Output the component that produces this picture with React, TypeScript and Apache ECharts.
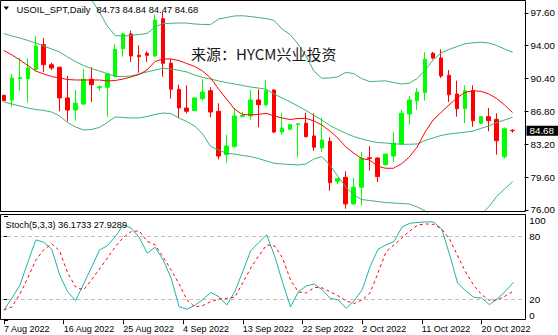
import { useEffect, useRef } from "react";
import * as echarts from "echarts";

const symbolName = "USOIL_SPT";
const timeframe = "Daily";
const watermark = "来源：HYCM兴业投资";

const opens = [88.56, 88.05, 90.4, 90.38, 91.41, 94.11, 91.91, 91.63, 88.27, 86.95, 87.61, 90.32, 89.38, 89.44, 90.68, 93.67, 95.28, 92.94, 93.16, 92.87, 96.95, 92.07, 89.22, 87.17, 86.88, 88.19, 89.07, 86.81, 82.06, 82.93, 86.25, 86.3, 88.05, 87.53, 89.14, 84.54, 84.84, 85.38, 85.5, 84.11, 82.79, 83.52, 79.14, 79.58, 76.66, 78.49, 81.72, 81.7, 80.96, 81.91, 83.23, 86.51, 87.97, 88.85, 93.16, 92.65, 90.75, 88.71, 87.1, 89.07, 85.5, 86.22, 85.93, 81.84, 84.73];
const highs = [88.63, 90.9, 92.65, 92.65, 95.06, 94.84, 92.13, 91.7, 90.68, 89.14, 91.41, 91.63, 89.66, 90.97, 94.18, 95.42, 95.64, 94.04, 93.38, 97.39, 97.69, 92.57, 89.72, 89.66, 88.38, 90.32, 89.44, 87.69, 84.25, 87.1, 86.73, 89.14, 89.22, 90.24, 89.22, 86.59, 85.42, 85.5, 86.66, 86.59, 86.08, 83.96, 79.5, 80.24, 79.5, 82.35, 83.01, 81.75, 82.15, 84.54, 86.95, 88.49, 89.36, 93.31, 93.31, 93.6, 91.33, 90.16, 89.66, 89.66, 86.3, 87.17, 86.59, 85.06, 84.84];
const lows = [87.91, 87.31, 89.07, 87.75, 91.19, 91.12, 91.33, 86.81, 85.72, 85.78, 87.47, 87.83, 89.07, 86.22, 90.53, 92.79, 92.21, 91.04, 92.21, 92.79, 90.6, 88.19, 86.08, 86.59, 86.84, 87.97, 86.15, 81.55, 81.18, 82.87, 86.15, 85.86, 85.06, 87.31, 84.4, 84.25, 84.8, 81.77, 83.96, 82.5, 82.35, 78.11, 78.85, 76.14, 76.58, 76.51, 80.3, 79.07, 80.95, 81.26, 83.15, 85.34, 86.95, 87.97, 92.51, 90.46, 87.83, 86.22, 85.5, 85.12, 85.42, 84.62, 82.06, 81.62, 84.47];
const closes = [87.97, 90.46, 90.5, 91.55, 93.96, 91.91, 91.55, 88.27, 86.95, 87.69, 90.32, 89.72, 89.5, 90.9, 93.6, 95.28, 92.87, 92.79, 92.94, 96.81, 92.07, 89.22, 87.17, 86.81, 88.27, 88.92, 86.73, 81.91, 83.01, 86.3, 86.35, 88.05, 87.53, 89.07, 84.54, 84.98, 85.34, 85.45, 84.03, 82.87, 83.67, 78.99, 79.43, 76.66, 78.49, 81.66, 81.66, 79.65, 82.13, 83.31, 86.59, 88.05, 88.92, 92.51, 92.65, 90.68, 88.63, 87.1, 89.07, 85.78, 86.22, 85.78, 83.59, 84.9, 84.68];

const bbUpper = [102.81, 102.51, 102.29, 101.96, 101.57, 101.03, 100.53, 100.32, 99.93, 99.44, 99.33, 99.06, 97.69, 96.15, 95.11, 95.06, 95.11, 95.22, 95.33, 96.04, 96.43, 96.45, 96.48, 96.48, 96.37, 96.32, 96.32, 96.92, 97.08, 97.25, 97.28, 97.19, 97.08, 96.97, 96.76, 95.82, 95.22, 94.18, 92.87, 91.22, 90.43, 90.46, 90.59, 91.06, 90.95, 90.4, 90.07, 90.1, 90.15, 89.96, 89.8, 89.88, 90.4, 91.33, 92.43, 93.2, 93.58, 93.89, 94.2, 94.31, 94.37, 94.29, 94.02, 93.63, 93.27];
const bbMiddle = [95.32, 95.06, 94.84, 94.57, 94.29, 93.96, 93.63, 93.31, 92.76, 92.26, 91.83, 91.5, 91.22, 90.95, 90.62, 90.62, 90.68, 90.9, 91.12, 91.33, 91.52, 91.44, 91.3, 91.12, 90.79, 90.51, 90.35, 90.13, 89.96, 89.8, 89.64, 89.47, 89.36, 89.22, 88.71, 88.27, 87.83, 87.39, 86.9, 86.35, 85.86, 85.26, 84.82, 84.4, 84.05, 83.78, 83.56, 83.39, 83.34, 83.26, 83.2, 83.2, 83.23, 83.61, 83.89, 84.16, 84.32, 84.43, 84.52, 84.65, 84.93, 85.2, 85.58, 85.86, 86.15];
const bbLower = [87.83, 87.61, 87.39, 87.17, 87.01, 86.9, 86.73, 86.3, 85.58, 85.09, 84.76, 84.82, 85.04, 85.58, 86.19, 86.13, 86.08, 86.08, 86.24, 86.46, 86.62, 86.57, 86.08, 85.69, 85.2, 84.32, 82.96, 82.57, 82.21, 82.13, 81.97, 81.86, 81.64, 81.37, 81.12, 81.04, 80.98, 80.93, 81.04, 81.59, 81.84, 80.93, 79.72, 78.52, 77.64, 77.15, 77.04, 76.93, 76.82, 76.77, 76.71, 76.66, 76.33, 75.89, 75.34, 75.12, 75.07, 74.98, 74.84, 74.99, 75.51, 76.33, 77.48, 78.3, 79.1];
const maRed = [93.47, 92.98, 92.43, 91.83, 91.22, 90.9, 90.62, 90.46, 90.29, 90.24, 90.24, 90.24, 90.24, 90.13, 90.18, 90.35, 90.57, 90.84, 91.33, 92.26, 92.54, 92.54, 92.37, 92.05, 91.72, 91.22, 90.46, 89.25, 88.16, 87.06, 86.46, 86.41, 86.46, 86.59, 86.3, 86.08, 85.91, 86.02, 86.04, 85.75, 85.31, 84.65, 83.89, 82.93, 82.24, 81.64, 81.48, 80.82, 80.57, 80.57, 81.04, 81.8, 82.9, 84.54, 85.86, 86.68, 87.5, 88.27, 88.87, 89.07, 89.0, 88.71, 88.21, 87.5, 86.66];

const stochMain = [9.8, 21.3, 33.5, 55.5, 76.9, 74.7, 68.0, 43.3, 27.3, 18.7, 34.7, 50.7, 67.3, 71.4, 80.1, 91.3, 88.1, 79.1, 64.1, 69.9, 57.7, 40.2, 12.9, 10.5, 14.3, 20.0, 26.7, 22.5, 14.6, 27.3, 46.5, 66.6, 74.3, 81.7, 61.7, 36.3, 12.7, 27.3, 32.8, 34.7, 29.0, 21.0, 19.4, 11.4, 18.7, 29.0, 51.3, 68.0, 72.1, 75.3, 89.1, 92.9, 93.6, 94.2, 94.0, 87.2, 62.5, 35.4, 28.3, 22.0, 21.3, 14.9, 20.6, 27.7, 36.1733];
const stochSignal = [9.8, 12.7, 25.1, 40.5, 57.7, 67.3, 73.1, 66.3, 45.3, 31.8, 29.0, 38.5, 49.1, 59.6, 70.5, 79.3, 85.0, 85.5, 75.5, 72.1, 60.6, 48.1, 34.7, 19.4, 12.7, 14.1, 17.9, 20.3, 21.0, 22.0, 35.7, 50.0, 61.6, 72.1, 71.1, 59.6, 38.5, 27.0, 26.1, 31.5, 30.9, 27.0, 23.2, 18.4, 16.0, 19.4, 26.1, 45.3, 65.4, 72.1, 78.8, 85.5, 91.3, 92.2, 91.8, 87.4, 77.4, 61.6, 46.2, 33.7, 24.6, 18.9, 19.4, 23.2, 27.9289];
const stochLevels = [80, 20];

const dateTickPositions = [0, 7.5, 15, 22.5, 30, 37.5, 45, 52.5, 60];
const dateTickLabels = ["7 Aug 2022", "16 Aug 2022", "25 Aug 2022", "4 Sep 2022", "13 Sep 2022", "22 Sep 2022", "2 Oct 2022", "11 Oct 2022", "20 Oct 2022"];
const priceTicks = [76, 79.6, 83.2, 86.8, 90.4, 94, 97.6];
const stochTicks = [0, 20, 80, 100];

const FONT = "'Liberation Sans',Arial,sans-serif";

export default function App() {
  const ref = useRef<HTMLDivElement>(null);
  useEffect(() => {
    if (!ref.current) return;
    const chart = echarts.init(ref.current, null, { renderer: "svg" });
    const n = opens.length;
    const slots = n + 1;
    const categories = Array.from({ length: slots }, (_, i) => String(i));
    const last = n - 1;
    const candles = opens.map((o, i) => [o, closes[i], lows[i], highs[i]]);
    const headerVals = [opens[last], highs[last], lows[last], closes[last]].map((v) => v.toFixed(2)).join(" ");
    const stochHeader = `Stoch(5,3,3) ${stochMain[last].toFixed(4)} ${stochSignal[last].toFixed(4)}`;

    const gridLeft = -2.7;
    const gridWidth = 528;

    const lineS = (data: number[], color: string) => ({
      type: "line",
      data,
      xAxisIndex: 0,
      yAxisIndex: 0,
      symbol: "none",
      clip: true,
      silent: true,
      lineStyle: { color, width: 1 },
      z: 3,
    });

    const option: any = {
      animation: false,
      backgroundColor: "#ffffff",
      grid: [
        { left: gridLeft, top: 0, width: gridWidth, height: 212 },
        { left: gridLeft, top: 215.8, width: gridWidth, height: 104.4 },
      ],
      xAxis: [
        { type: "category", gridIndex: 0, data: categories, boundaryGap: true, show: false },
        { type: "category", gridIndex: 1, data: categories, boundaryGap: true, show: false },
        {
          type: "value",
          gridIndex: 1,
          min: -0.5,
          max: slots - 0.5,
          position: "bottom",
          axisLine: { show: false },
          splitLine: { show: false },
          axisTick: { show: true, customValues: dateTickPositions, length: 4, lineStyle: { color: "#000" } },
          axisLabel: {
            customValues: dateTickPositions,
            formatter: (v: number) => {
              const idx = dateTickPositions.findIndex((p) => Math.abs(p - v) < 1e-6);
              return idx >= 0 ? dateTickLabels[idx] : "";
            },
            align: "left",
            margin: 4,
            fontSize: 9,
            fontFamily: FONT,
            color: "#000",
          },
        },
      ],
      yAxis: [
        {
          type: "value",
          gridIndex: 0,
          position: "right",
          min: 75.78,
          max: 99.0,
          splitLine: { show: false },
          axisLine: { show: false },
          axisTick: { show: true, customValues: priceTicks, length: 4, lineStyle: { color: "#000" } },
          axisLabel: {
            customValues: priceTicks,
            formatter: (v: number) => v.toFixed(2),
            margin: 6,
            fontSize: 9.8,
            fontFamily: FONT,
            color: "#000",
          },
        },
        {
          type: "value",
          gridIndex: 1,
          position: "right",
          min: 0,
          max: 100,
          splitLine: { show: false },
          axisLine: { show: false },
          axisTick: { show: true, customValues: stochTicks, length: 4, lineStyle: { color: "#000" } },
          axisLabel: {
            customValues: stochTicks,
            formatter: (v: number) => String(v),
            margin: 4,
            fontSize: 9.8,
            fontFamily: FONT,
            color: "#000",
            verticalAlignMinLabel: "bottom",
            verticalAlignMaxLabel: "top",
          },
        },
      ],
      series: [
        {
          type: "candlestick",
          xAxisIndex: 0,
          yAxisIndex: 0,
          data: candles,
          barWidth: 4,
          clip: true,
          silent: true,
          itemStyle: {
            color: "#00ff00",
            color0: "#ff0000",
            borderColor: "#00ff00",
            borderColor0: "#ff0000",
            borderWidth: 1,
          },
          markLine: {
            silent: true,
            symbol: ["none", "none"],
            lineStyle: { width: 0, color: "rgba(0,0,0,0)" },
            label: {
              show: true,
              position: "end",
              formatter: closes[last].toFixed(2),
              backgroundColor: "#000",
              color: "#fff",
              fontSize: 9.8,
              fontFamily: FONT,
              padding: [0, 5, 0, 3],
              lineHeight: 10,
              distance: 2,
            },
            data: [{ yAxis: closes[last] }],
          },
        },
        lineS(bbUpper, "#3cb371"),
        lineS(bbMiddle, "#3cb371"),
        lineS(bbLower, "#3cb371"),
        lineS(maRed, "#ff0000"),
        {
          type: "line",
          data: stochMain,
          xAxisIndex: 1,
          yAxisIndex: 1,
          symbol: "none",
          silent: true,
          lineStyle: { color: "#20b2aa", width: 1 },
          z: 3,
          markLine: {
            silent: true,
            symbol: ["none", "none"],
            label: { show: false },
            lineStyle: { color: "#c0c0c0", type: [4, 3], width: 1 },
            data: stochLevels.map((v) => ({ yAxis: v })),
            z: 1,
          },
        },
        {
          type: "line",
          data: stochSignal,
          xAxisIndex: 1,
          yAxisIndex: 1,
          symbol: "none",
          silent: true,
          lineStyle: { color: "#ff0000", width: 1, type: [3, 3] },
          z: 4,
        },
      ],
      graphic: [
        { type: "rect", silent: true, z: 100, shape: { x: 0.5, y: 0.5, width: 525, height: 211 }, style: { fill: "none", stroke: "#000", lineWidth: 1 } },
        { type: "rect", silent: true, z: 100, shape: { x: 0.5, y: 214.5, width: 525, height: 105 }, style: { fill: "none", stroke: "#000", lineWidth: 1 } },
        { type: "polygon", silent: true, z: 100, shape: { points: [[3.5, 6.5], [9, 6.5], [6.25, 10]] }, style: { fill: "#000" } },
        { type: "text", silent: true, z: 100, x: 16.5, y: 9.5, style: { text: `${symbolName},${timeframe}`, fontSize: 9.4, fontFamily: FONT, fill: "#000", verticalAlign: "middle" } },
        { type: "text", silent: true, z: 100, x: 96.5, y: 9.5, style: { text: headerVals, fontSize: 9.4, fontFamily: FONT, fill: "#000", verticalAlign: "middle" } },
        { type: "text", silent: true, z: 100, x: 5.5, y: 225, style: { text: stochHeader, fontSize: 9.2, fontFamily: FONT, fill: "#000", verticalAlign: "middle" } },
        { type: "text", silent: true, z: 100, x: 191, y: 53, style: { text: watermark, fontSize: 15, fontFamily: "'Noto Sans CJK SC','Noto Sans',sans-serif", fill: "#1a1a1a", verticalAlign: "middle" } },
      ],
    };
    chart.setOption(option);
    return () => chart.dispose();
  }, []);
  return <div ref={ref} style={{ position: "fixed", left: 0, top: 0, width: 558, height: 335, background: "#fff" }} />;
}
